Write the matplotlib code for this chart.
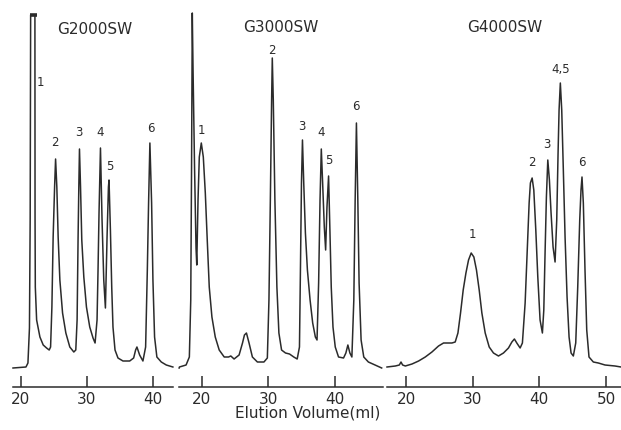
import matplotlib
matplotlib.use("Agg")
import matplotlib.pyplot as plt

# ---------------- data (elution volume in ml, detector response in relative units) ----------------
g2000_vol = [18.79, 20.76, 21.06, 21.29, 21.40, 21.47, 22.12, 22.14, 22.18, 22.38, 22.88, 23.38, 23.89,
             24.29, 24.50, 24.70, 24.89, 25.11, 25.26, 25.45, 25.65, 25.91, 26.32, 26.82, 27.42,
             28.03, 28.33, 28.53, 28.68, 28.79, 28.89, 29.05, 29.24, 29.55, 29.95, 30.45, 30.95,
             31.26, 31.56, 31.71, 31.86, 32.08, 32.32, 32.58, 32.83, 33.08, 33.29, 33.38, 33.59,
             33.79, 33.98, 34.29, 34.74, 35.50, 36.52, 37.12, 37.42, 37.62, 38.03, 38.53, 38.94,
             39.20, 39.39, 39.59, 39.85, 40.05, 40.30, 40.65, 41.32, 42.08, 43.08]
g2000_sig = [0, 1, 5, 40, 150, 353, 353, 150, 81, 48, 31, 23, 20,
             18, 21, 61, 131, 181, 209, 181, 131, 88, 55, 35, 21,
             16, 18, 48, 131, 181, 219, 181, 128, 91, 61, 41, 30,
             25, 48, 98, 155, 220, 148, 88, 60, 131, 181, 188, 138,
             81, 41, 18, 10, 7, 7, 10, 18, 21, 13, 7, 21,
             98, 165, 225, 165, 88, 31, 11, 6, 3, 1]
g2000_cap_vol = [21.30, 22.50]
g2000_cap_sig = [353, 353]

g3000_vol = [16.62, 16.66, 17.66, 18.15, 18.36, 18.48, 18.59, 18.70, 18.93, 19.15, 19.26, 19.45, 19.64,
             19.94, 20.24, 20.54, 20.83, 21.13, 21.53, 22.03, 22.62, 23.37, 24.02, 24.36, 24.85,
             25.60, 26.11, 26.40, 26.70, 27.09, 27.59, 28.34, 29.32, 29.83, 30.07, 30.28, 30.47,
             30.57, 30.72, 30.96, 31.26, 31.56, 31.96, 32.55, 33.15, 33.79, 34.30, 34.64, 34.79,
             34.94, 35.09, 35.28, 35.53, 35.83, 36.23, 36.62, 37.02, 37.27, 37.51, 37.72, 37.91,
             38.11, 38.36, 38.56, 38.76, 39.00, 39.21, 39.40, 39.66, 40.00, 40.49, 41.24, 41.59,
             41.89, 42.19, 42.49, 42.78, 42.98, 43.17, 43.38, 43.57, 43.87, 44.27, 44.96, 45.96, 46.95]
g3000_sig = [0, 1, 3, 11, 68, 200, 355, 300, 200, 120, 103, 168, 211,
             225, 211, 175, 128, 81, 51, 31, 18, 11, 11, 12, 9,
             13, 25, 33, 35, 25, 11, 6, 6, 10, 68, 168, 268,
             310, 268, 168, 81, 35, 18, 15, 14, 11, 9, 21, 101,
             185, 228, 185, 135, 98, 68, 45, 31, 28, 85, 168, 219,
             185, 141, 118, 161, 192, 135, 81, 41, 21, 11, 10, 15,
             23, 15, 11, 68, 168, 245, 168, 85, 28, 11, 6, 3, 0]

g4000_vol = [17.15, 18.40, 19.00, 19.25, 19.49, 19.90, 20.90, 21.89, 22.89, 23.89, 24.88, 25.63, 26.14,
             26.89, 27.38, 27.79, 28.18, 28.58, 28.99, 29.38, 29.78, 30.18, 30.57, 30.98, 31.38,
             31.88, 32.48, 33.12, 33.87, 34.62, 35.37, 35.88, 36.26, 36.62, 37.12, 37.46, 37.87,
             38.17, 38.47, 38.66, 38.92, 39.17, 39.47, 39.77, 40.11, 40.46, 40.67, 40.86, 41.06,
             41.27, 41.51, 41.76, 42.06, 42.36, 42.61, 42.81, 42.96, 43.15, 43.36, 43.60, 43.86,
             44.16, 44.46, 44.76, 45.10, 45.46, 45.76, 46.06, 46.25, 46.40, 46.60, 46.85, 47.11,
             47.45, 48.10, 48.85, 49.85, 51.35, 52.25]
g4000_sig = [1, 2, 3, 6, 3, 2, 4, 7, 11, 16, 22, 25, 25,
             25, 26, 35, 55, 78, 95, 108, 115, 111, 98, 78, 55,
             35, 21, 15, 12, 15, 20, 26, 29, 25, 20, 25, 65,
             115, 165, 185, 190, 178, 138, 91, 48, 35, 58, 115, 171,
             208, 188, 155, 121, 106, 148, 215, 258, 285, 258, 198, 131,
             71, 31, 15, 12, 25, 81, 148, 178, 191, 165, 98, 38,
             11, 6, 5, 3, 2, 1]

# peak numbering labels
g2000_lab = ["1", "2", "3", "4", "5", "6"]
g2000_lab_vol = [22.9, 25.15, 28.8, 31.97, 33.5, 39.7]
g2000_lab_sig = [285, 225, 236, 236, 201, 239]

g3000_lab = ["1", "2", "3", "4", "5", "6"]
g3000_lab_vol = [19.9, 30.57, 35.07, 37.9, 39.1, 43.07]
g3000_lab_sig = [238, 318, 241, 235, 207, 261]

g4000_lab = ["1", "2", "3", "4,5", "6"]
g4000_lab_vol = [29.9, 38.86, 41.1, 43.2, 46.4]
g4000_lab_sig = [133, 206, 223, 299, 206]

titles = ["G2000SW", "G3000SW", "G4000SW"]
xticks = [[20, 30, 40], [20, 30, 40], [20, 30, 40, 50]]
xlabel = "Elution Volume(ml)"

# ---------------- layout ----------------
W, H = 621, 430
fig = plt.figure(figsize=(W / 100, H / 100), dpi=100)
fig.patch.set_facecolor("white")

INK = "#2b2b2b"
axis_px_y = 387          # pixel row of the x-axis line
panel_px = [(13, 173), (179, 383), (387, 621)]
xlims = [(18.79, 43.1), (16.6, 47.15), (17.15, 52.25)]
ylim = (-19, 368)
title_pos = [(31.2, 338), (31.8, 341), (34.87, 340)]

curves = [(g2000_vol, g2000_sig), (g3000_vol, g3000_sig), (g4000_vol, g4000_sig)]
labels = [(g2000_lab, g2000_lab_vol, g2000_lab_sig),
          (g3000_lab, g3000_lab_vol, g3000_lab_sig),
          (g4000_lab, g4000_lab_vol, g4000_lab_sig)]

for i in range(3):
    x0, x1 = panel_px[i]
    ax = fig.add_axes([x0 / W, (H - axis_px_y) / H, (x1 - x0) / W, axis_px_y / H])
    ax.set_facecolor("none")
    vol, sig = curves[i]
    ax.plot(vol, sig, color=INK, lw=1.1, solid_joinstyle="round", clip_on=False)
    if i == 0:
        ax.plot(g2000_cap_vol, g2000_cap_sig, color=INK, lw=2.6, solid_capstyle="butt")
    for t, xv, yv in zip(*labels[i]):
        ax.text(xv, yv, t, ha="center", va="center", fontsize=8.5, color=INK)
    ax.text(title_pos[i][0], title_pos[i][1], titles[i], ha="center", va="center",
            fontsize=11, color=INK)
    ax.set_xlim(*xlims[i])
    ax.set_ylim(*ylim)
    for s in ("left", "right", "top"):
        ax.spines[s].set_visible(False)
    ax.spines["bottom"].set_color(INK)
    ax.spines["bottom"].set_linewidth(1.1)
    ax.set_yticks([])
    ax.set_xticks(xticks[i])
    ax.tick_params(axis="x", direction="in", length=8, width=1.1, colors=INK,
                   labelsize=11, pad=3.5)

fig.text(307.5 / W, 1 - 413 / H, xlabel, ha="center", va="center", fontsize=11, color=INK)

fig.savefig("out.png", dpi=100, facecolor="white")
